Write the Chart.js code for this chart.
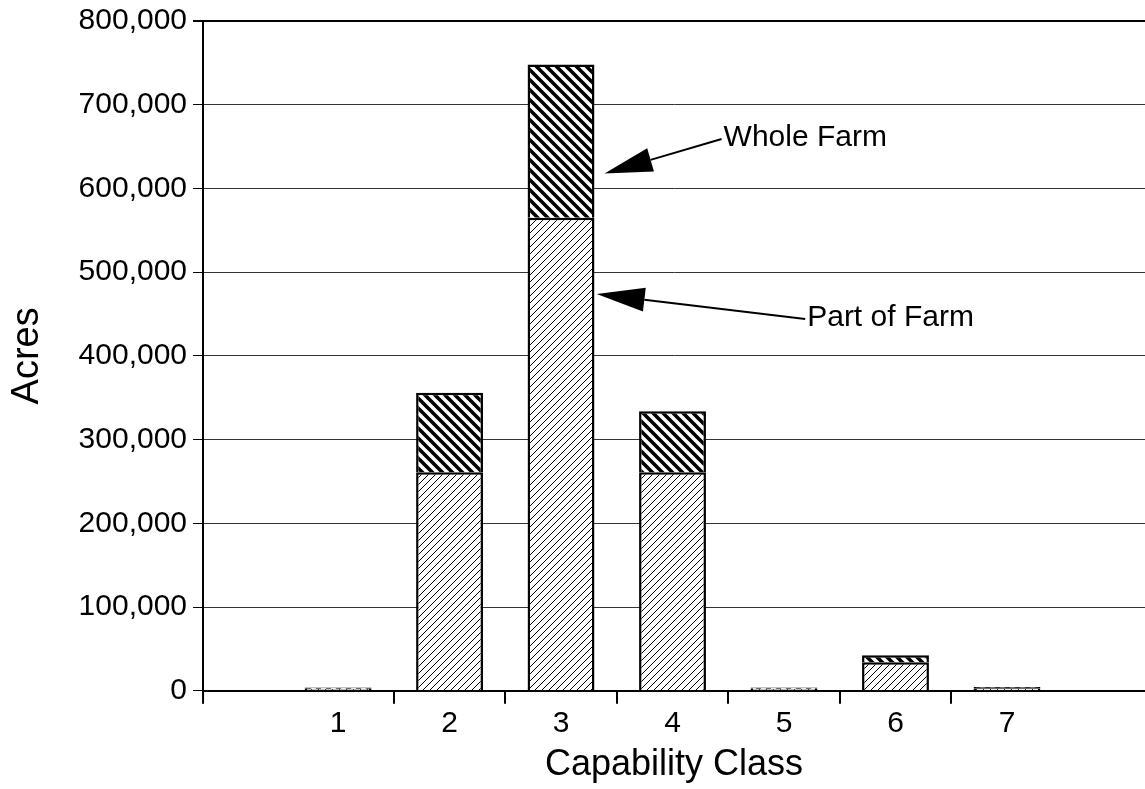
<!DOCTYPE html>
<html>
<head>
<meta charset="utf-8">
<title>Acres by Capability Class</title>
<script src="https://cdn.jsdelivr.net/npm/chart.js@4.4.1/dist/chart.umd.min.js"></script>
<style>
  html, body { margin: 0; padding: 0; background: #fff; }
  #wrap { width: 1145px; height: 789px; }
</style>
</head>
<body>
<div id="wrap"><canvas id="chart"></canvas></div>
<script>
const classes = [1, 2, 3, 4, 5, 6, 7];
const partOfFarm = [2500, 261000, 565000, 261000, 2500, 34000, 3000];
const wholeFarm = [1500, 95000, 183000, 73000, 1500, 8600, 1500];
const yMax = 800000;
const yStep = 100000;

// arrow labels, in data coordinates (x = class, y = acres)
const notes = [
    { text: 'Whole Farm', tip: [3.39, 618000], tail: [4.44, 659000] },
    { text: 'Part of Farm', tip: [3.32, 474000], tail: [5.19, 444000] },
];

Chart.defaults.font.family = "'Liberation Sans', Arial, Helvetica, sans-serif";
Chart.defaults.color = '#000';

// hatch fills
function hatch(size, width, back) {
    const c = document.createElement('canvas');
    c.width = size;
    c.height = size;
    const g = c.getContext('2d');
    g.fillStyle = '#fff';
    g.fillRect(0, 0, size, size);
    g.strokeStyle = '#000';
    g.lineWidth = width;
    g.beginPath();
    if (back) {
        g.moveTo(-size, 0); g.lineTo(size * 2, size * 3);
        g.moveTo(-size, -size); g.lineTo(size * 2, size * 2);
        g.moveTo(0, -size); g.lineTo(size * 3, size * 2);
    } else {
        g.moveTo(-size, size * 2); g.lineTo(size * 2, -size);
        g.moveTo(-size, size); g.lineTo(size, -size);
        g.moveTo(0, size * 2); g.lineTo(size * 2, 0);
    }
    g.stroke();
    return g.createPattern(c, 'repeat');
}
const partFill = hatch(7, 1, false);
const wholeFill = hatch(10, 3.6, true);

const arrowNotes = {
    id: 'arrowNotes',
    afterDatasetsDraw(chart) {
        const { ctx, scales: { x, y }, chartArea } = chart;
        ctx.save();
        // stub of the y axis below the x axis
        ctx.strokeStyle = '#000';
        ctx.lineWidth = 2;
        ctx.beginPath();
        ctx.moveTo(chartArea.left, chartArea.bottom);
        ctx.lineTo(chartArea.left, chartArea.bottom + 13);
        ctx.stroke();

        ctx.fillStyle = '#000';
        ctx.font = "30px 'Liberation Sans', Arial, sans-serif";
        ctx.textBaseline = 'middle';
        ctx.textAlign = 'left';
        notes.forEach(n => {
            const tx = x.getPixelForValue(n.tip[0]);
            const ty = y.getPixelForValue(n.tip[1]);
            const ex = x.getPixelForValue(n.tail[0]);
            const ey = y.getPixelForValue(n.tail[1]);
            const len = Math.hypot(ex - tx, ey - ty);
            const ux = (ex - tx) / len, uy = (ey - ty) / len;
            const bx = tx + ux * 48, by = ty + uy * 48;
            ctx.beginPath();
            ctx.moveTo(bx, by);
            ctx.lineTo(ex, ey);
            ctx.stroke();
            ctx.beginPath();
            ctx.moveTo(tx, ty);
            ctx.lineTo(bx - uy * 12, by + ux * 12);
            ctx.lineTo(bx + uy * 12, by - ux * 12);
            ctx.closePath();
            ctx.fill();
            ctx.fillText(n.text, ex + 2, ey - 1);
        });
        ctx.restore();
    }
};

new Chart(document.getElementById('chart'), {
    type: 'bar',
    data: {
        labels: classes,
        datasets: [
            {
                label: 'Part of Farm',
                data: partOfFarm,
                backgroundColor: partFill,
                borderColor: '#000',
                borderWidth: 2.5,
            },
            {
                label: 'Whole Farm',
                data: wholeFarm,
                backgroundColor: wholeFill,
                borderColor: '#000',
                borderWidth: 2.5,
            }
        ]
    },
    options: {
        responsive: true,
        maintainAspectRatio: false,
        animation: false,
        categoryPercentage: 1,
        barPercentage: 0.6,
        layout: { padding: { left: 5, top: 20, right: 0, bottom: 0 } },
        plugins: {
            legend: { display: false },
            tooltip: { enabled: false },
        },
        scales: {
            x: {
                type: 'linear',
                stacked: true,
                offset: false,
                min: -0.211,
                max: 8.238,
                afterBuildTicks: scale => {
                    scale.ticks = classes.map(v => ({ value: v }));
                },
                ticks: {
                    font: { size: 30 },
                    padding: 2,
                    maxRotation: 0,
                    autoSkip: false,
                    callback: v => String(v),
                },
                grid: {
                    offset: true,
                    drawOnChartArea: false,
                    tickLength: 13,
                    lineWidth: 2,
                    tickColor: ctx => (ctx.type !== 'tick' || ctx.index === 0) ? 'rgba(0,0,0,0)' : '#000',
                },
                border: { display: true, color: '#000', width: 2 },
                title: {
                    display: true,
                    text: 'Capability Class',
                    font: { size: 36 },
                    padding: { top: 0, bottom: 2 },
                },
            },
            y: {
                stacked: true,
                min: 0,
                max: yMax,
                ticks: {
                    stepSize: yStep,
                    font: { size: 30, lineHeight: 1 },
                    padding: 6,
                    callback: v => v.toLocaleString('en-US'),
                },
                grid: {
                    color: ctx => ctx.tick && ctx.tick.value === yMax ? '#000' : '#333',
                    lineWidth: ctx => ctx.tick && ctx.tick.value === yMax ? 2 : 1,
                    tickColor: '#000',
                    tickLength: 10,
                },
                border: { display: true, color: '#000', width: 2 },
                title: {
                    display: true,
                    text: 'Acres',
                    font: { size: 38 },
                    padding: { top: 0, bottom: 22 },
                },
            }
        }
    },
    plugins: [arrowNotes]
});
</script>
</body>
</html>
